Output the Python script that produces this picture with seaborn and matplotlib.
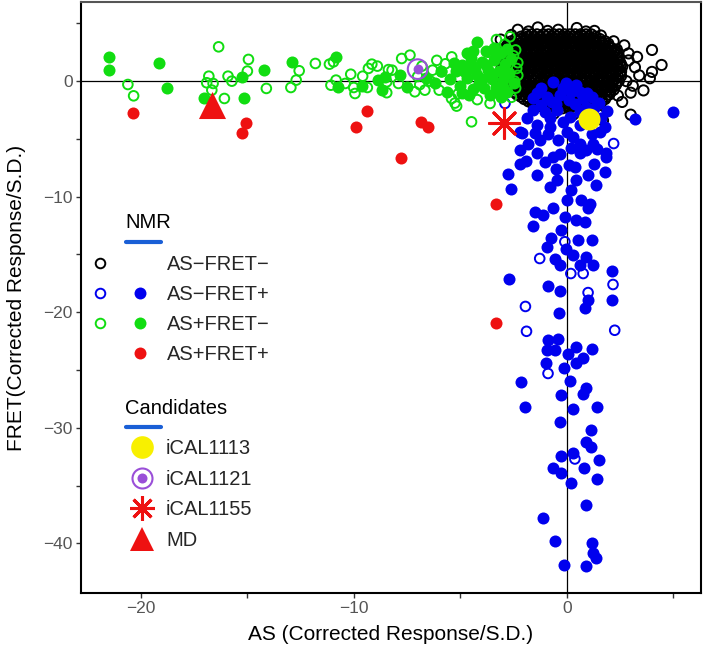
import numpy as np
import pandas as pd
import seaborn as sns
import matplotlib.pyplot as plt
from matplotlib.lines import Line2D
from matplotlib.legend_handler import HandlerTuple

# values: (AS, FRET) in corrected response / S.D.

# AS-FRET- : big black cloud, written as rows of the cloud plus its loose edge rings
black_rows = [
    (4.05, [-1.9, -1.65, -1.4, -1.1, -0.85, -0.6, -0.35, -0.1, 0.15, 0.4, 0.65, 0.9, 1.15]),
    (3.85, [-2.15, -1.85, -1.55, -1.25, -0.95, -0.7, -0.45, -0.2, 0.05, 0.3, 0.55, 0.8, 1.05, 1.35]),
    (3.65, [-2.4, -2.15, -1.9, -1.6, -1.35, -1.1, -0.85, -0.55, -0.3, -0.05, 0.2, 0.45, 0.75, 1.0, 1.3, 1.55]),
    (3.45, [-2.6, -2.35, -2.05, -1.8, -1.55, -1.3, -1.0, -0.75, -0.5, -0.25, 0.0, 0.3, 0.55, 0.8, 1.05, 1.3, 1.55, 1.8]),
    (3.25, [-2.75, -2.5, -2.25, -2.0, -1.7, -1.45, -1.2, -0.95, -0.7, -0.4, -0.15, 0.1, 0.35, 0.6, 0.9, 1.15, 1.4, 1.7, 1.95]),
    (3.05, [-2.8, -2.55, -2.3, -2.0, -1.75, -1.5, -1.2, -0.95, -0.7, -0.45, -0.2, 0.1, 0.35, 0.6, 0.85, 1.15, 1.4, 1.65, 1.95]),
    (2.85, [-2.9, -2.65, -2.35, -2.1, -1.85, -1.6, -1.3, -1.05, -0.8, -0.55, -0.3, 0.0, 0.25, 0.5, 0.75, 1.0, 1.3, 1.55, 1.8, 2.1]),
    (2.65, [-2.95, -2.7, -2.45, -2.2, -1.9, -1.65, -1.4, -1.1, -0.85, -0.6, -0.35, -0.05, 0.2, 0.45, 0.7, 1.0, 1.25, 1.5, 1.8, 2.05, 2.25]),
    (2.45, [-3.0, -2.75, -2.5, -2.25, -1.95, -1.7, -1.45, -1.2, -0.9, -0.65, -0.4, -0.15, 0.1, 0.4, 0.65, 0.9, 1.15, 1.4, 1.7, 1.95, 2.2, 2.35]),
    (2.25, [-2.9, -2.6, -2.35, -2.1, -1.85, -1.55, -1.3, -1.05, -0.75, -0.5, -0.25, 0.05, 0.3, 0.55, 0.85, 1.1, 1.35, 1.65, 1.9, 2.15, 2.4]),
    (2.05, [-3.0, -2.85, -2.6, -2.35, -2.1, -1.8, -1.55, -1.3, -1.05, -0.8, -0.5, -0.25, 0.0, 0.25, 0.5, 0.8, 1.05, 1.3, 1.55, 1.85, 2.1, 2.4]),
    (1.85, [-2.9, -2.65, -2.4, -2.1, -1.85, -1.6, -1.3, -1.05, -0.8, -0.5, -0.25, 0.0, 0.3, 0.55, 0.8, 1.1, 1.35, 1.6, 1.9, 2.15, 2.4]),
    (1.65, [-3.0, -2.75, -2.5, -2.2, -1.95, -1.7, -1.45, -1.15, -0.9, -0.65, -0.4, -0.1, 0.15, 0.4, 0.65, 0.95, 1.2, 1.45, 1.7, 2.0, 2.25, 2.5]),
    (1.45, [-2.95, -2.7, -2.45, -2.15, -1.9, -1.65, -1.35, -1.1, -0.85, -0.55, -0.3, -0.05, 0.25, 0.5, 0.75, 1.05, 1.3, 1.55, 1.85, 2.1, 2.35, 2.55]),
    (1.25, [-3.05, -2.85, -2.6, -2.35, -2.05, -1.8, -1.55, -1.3, -1.0, -0.75, -0.5, -0.25, 0.05, 0.3, 0.55, 0.8, 1.1, 1.35, 1.6, 1.85, 2.15, 2.4, 2.6]),
    (1.05, [-2.9, -2.65, -2.35, -2.1, -1.85, -1.55, -1.3, -1.05, -0.75, -0.5, -0.25, 0.05, 0.3, 0.55, 0.85, 1.1, 1.35, 1.65, 1.9, 2.15, 2.45]),
    (0.85, [-3.0, -2.75, -2.45, -2.2, -1.95, -1.7, -1.4, -1.15, -0.9, -0.6, -0.35, -0.1, 0.2, 0.45, 0.7, 0.95, 1.25, 1.5, 1.75, 2.0, 2.3, 2.55]),
    (0.65, [-2.85, -2.6, -2.3, -2.05, -1.8, -1.5, -1.25, -1.0, -0.7, -0.45, -0.2, 0.1, 0.35, 0.6, 0.9, 1.15, 1.4, 1.7, 1.95, 2.2, 2.5]),
    (0.45, [-2.95, -2.65, -2.4, -2.15, -1.85, -1.6, -1.35, -1.05, -0.8, -0.55, -0.25, 0.0, 0.3, 0.55, 0.8, 1.05, 1.35, 1.6, 1.85, 2.1, 2.4, 2.55]),
    (0.25, [-2.8, -2.5, -2.25, -2.0, -1.7, -1.45, -1.2, -0.9, -0.65, -0.4, -0.1, 0.15, 0.4, 0.7, 0.95, 1.2, 1.5, 1.75, 2.0, 2.3]),
    (0.05, [-2.9, -2.6, -2.35, -2.05, -1.8, -1.55, -1.25, -1.0, -0.75, -0.5, -0.2, 0.05, 0.3, 0.6, 0.85, 1.1, 1.4, 1.65, 1.9, 2.2, 2.45]),
    (-0.15, [-2.7, -2.45, -2.15, -1.9, -1.65, -1.35, -1.1, -0.85, -0.55, -0.3, -0.05, 0.25, 0.5, 0.75, 1.05, 1.3, 1.55, 1.85, 2.1, 2.35]),
    (-0.35, [-2.8, -2.55, -2.25, -2.0, -1.75, -1.45, -1.2, -0.95, -0.65, -0.4, -0.15, 0.15, 0.4, 0.65, 0.95, 1.2, 1.45, 1.75, 2.0, 2.3]),
    (-0.55, [-2.7, -2.4, -2.15, -1.9, -1.6, -1.35, -1.1, -0.8, -0.55, -0.3, 0.0, 0.25, 0.5, 0.8, 1.05, 1.3, 1.6, 1.85, 2.1]),
    (-0.75, [-2.6, -2.35, -2.1, -1.85, -1.55, -1.3, -1.05, -0.8, -0.5, -0.25, 0.0, 0.3, 0.55, 0.8, 1.1, 1.35, 1.6, 1.9, 2.2]),
    (-0.95, [-2.45, -2.2, -1.95, -1.65, -1.4, -1.15, -0.85, -0.6, -0.35, -0.05, 0.2, 0.45, 0.75, 1.0, 1.25, 1.55, 1.8, 2.05]),
    (-1.15, [-2.35, -2.1, -1.8, -1.55, -1.3, -1.0, -0.75, -0.5, -0.2, 0.05, 0.3, 0.6, 0.85, 1.1, 1.4, 1.65, 2.0]),
    (-1.35, [-2.15, -1.9, -1.6, -1.35, -1.1, -0.8, -0.55, -0.3, 0.0, 0.25, 0.5, 0.8, 1.05, 1.3, 1.6, 1.85]),
    (-1.55, [-2.0, -1.75, -1.45, -1.2, -0.95, -0.65, -0.4, -0.15, 0.15, 0.4, 0.65, 0.95, 1.2, 1.5, 1.8]),
    (-1.75, [-1.8, -1.55, -1.3, -1.0, -0.75, -0.5, -0.2, 0.05, 0.3, 0.6, 0.85, 1.1, 1.4, 1.65]),
    (-1.95, [-1.6, -1.3, -1.05, -0.8, -0.5, -0.25, 0.05, 0.3, 0.55, 0.85, 1.1, 1.35, 1.55]),
    (-2.15, [-1.3, -1.05, -0.75, -0.5, -0.25, 0.05, 0.3, 0.55, 0.85, 1.1, 1.35]),
    (-2.35, [-1.0, -0.75, -0.45, -0.2, 0.1, 0.35, 0.6, 0.9, 1.2]),
]
black_edge = [(-2.3, 4.45), (-1.36, 4.65), (-0.9, 4.35), (-0.4, 4.45), (0.47, 4.6), (1.3, 4.35),
              (0.9, 4.3), (-1.8, 4.3), (-2.6, 4.0), (-3.1, 3.6), (1.6, 3.95), (2.2, 3.45), (2.7, 3.1),
              (1.9, 2.75), (2.35, 2.75), (4.0, 2.7), (3.3, 2.1), (2.9, 1.8), (3.2, 1.2), (4.45, 1.4),
              (4.0, 0.8), (3.4, 0.5), (3.9, 0.25), (2.8, 0.0), (3.1, -0.4), (3.6, -0.8), (3.0, -1.0),
              (2.4, -1.25), (2.6, -1.8), (3.0, -2.9), (1.7, -3.4), (1.5, -2.9), (0.3, -2.9),
              (-0.6, -2.8), (2.9, 2.4)]

# AS-FRET+ (blue)
blue_filled = [
    (-1.19, -0.63), (-0.64, -0.06), (-0.02, -0.2), (0.45, -0.35), (-0.95, -1.36), (-0.33, -1.2),
    (0.77, -1.5), (0.92, -2.22), (-1.58, -2.5), (-1.03, -2.66), (-1.89, -3.23), (-2.2, -4.39),
    (-1.42, -3.8), (-0.8, -3.95), (0.0, -4.39), (0.61, -3.8), (1.55, -4.39), (-1.27, -5.1),
    (-0.41, -5.1), (0.61, -5.4), (1.23, -5.4), (0.14, -3.09), (-0.48, -2.5), (0.2, -0.9),
    (-0.7, -1.8), (0.4, -2.0), (1.3, -2.3), (1.6, -3.2), (-0.2, -3.5), (1.2, -4.6), (0.3, -4.8),
    (-0.9, -4.6), (1.8, -4.0), (-1.8, -5.4), (0.9, -6.0), (-0.3, -6.3), (0.2, -5.8), (1.4, -5.9),
    (-1.0, -7.0), (0.1, -7.3), (1.3, -7.2), (-0.5, -7.6), (1.8, -7.9), (-1.9, -6.9), (0.95, -1.0),
    (-1.6, -1.5), (-1.4, -1.0), (-0.2, -0.6), (0.6, -0.9), (1.2, -1.4), (-0.5, -2.0), (0.1, -1.6),
    (1.5, -1.9), (-1.2, -2.1), (0.6, -2.7), (1.9, -2.6), (-0.8, -3.2), (0.9, -3.5), (-1.5, -4.5),
    (5.0, -2.7), (3.19, -3.3), (-2.12, -4.5), (-1.42, -6.26), (-0.64, -6.55),
    (0.61, -6.26), (1.86, -6.26), (-2.2, -5.97), (1.86, -6.6), (-2.2, -7.13), (-2.75, -8.05),
    (-2.63, -9.3), (-1.42, -8.14), (-0.8, -9.15), (-0.48, -8.57), (0.38, -7.42), (0.45, -8.57),
    (1.0, -8.14), (1.39, -9.0), (0.22, -9.44), (0.0, -10.3), (0.69, -10.3), (1.08, -10.6),
    (1.0, -11.0), (-1.5, -11.3), (-1.11, -11.6), (-0.64, -11.0), (-0.09, -11.75), (0.45, -12.0),
    (0.84, -12.2), (-1.58, -12.55), (-0.25, -12.9), (-0.72, -13.6), (-0.95, -14.35), (0.53, -13.77),
    (1.19, -13.77), (-0.02, -14.5), (-0.56, -15.35), (-0.33, -15.9), (0.3, -15.06), (0.92, -15.2),
    (1.23, -15.9), (0.61, -15.9), (2.1, -16.4), (-2.7, -17.1), (-0.87, -17.75), (-0.3, -18.2),
    (1.0, -18.96), (0.84, -19.6), (2.1, -18.9), (-0.36, -20.06), (-0.88, -22.4), (-0.41, -22.3),
    (-0.95, -23.3), (0.45, -23.0), (1.2, -23.2), (-0.56, -23.3), (0.06, -23.6), (0.77, -24.0),
    (0.45, -24.4), (-0.98, -24.4), (-0.14, -24.8), (-2.17, -26.0), (0.17, -25.95), (0.92, -26.6),
    (0.77, -27.1), (-0.25, -27.2), (-1.94, -28.2), (0.27, -28.4), (1.44, -28.2), (-0.33, -29.5),
    (1.13, -30.2), (0.89, -31.2), (1.16, -31.7), (-0.28, -32.4), (0.27, -32.15), (1.51, -32.75),
    (-0.64, -33.5), (-0.25, -33.9), (0.8, -33.45), (1.44, -34.4), (0.22, -34.8), (0.89, -36.7),
    (-1.11, -37.8), (-0.53, -39.8), (1.19, -40.0), (1.23, -40.8), (1.36, -41.3), (-0.14, -41.9),
    (0.89, -42.0),
]
blue_open = [(-2.9, -1.93), (2.2, -5.4), (-0.09, -13.9), (-1.27, -15.35), (0.19, -16.65),
             (0.77, -16.65), (2.17, -17.6), (1.0, -18.3), (-1.94, -19.5), (-1.89, -21.65),
             (2.25, -21.56), (-0.88, -25.3), (0.38, -32.7)]

# AS+FRET- (green)
green_filled = [
    (-21.5, 2.1), (-21.47, 1.0), (-19.16, 1.58), (-18.77, -0.63), (-17.05, -1.44), (-15.25, 0.37),
    (-15.14, -1.5), (-14.2, 1.0), (-12.88, 1.62), (-10.83, 2.05), (-10.72, -0.49), (-9.62, -0.4),
    (-8.84, 0.09), (-8.69, -0.78), (-8.53, 0.37), (-7.83, 0.52), (-7.52, -0.49),
    (-6.6, 0.3), (-6.2, -0.2), (-5.9, 0.9), (-5.5, 0.2), (-5.2, 0.9), (-5.0, -0.4), (-4.9, 1.4),
    (-4.7, 0.3), (-4.5, 2.0), (-4.4, -0.7), (-4.3, 1.0), (-4.23, 3.4), (-4.0, 0.2), (-4.0, 1.7),
    (-3.9, -0.6), (-3.8, 2.6), (-3.7, 1.0), (-3.6, -1.2), (-3.5, 0.2), (-3.4, 1.8), (-3.3, -0.5),
    (-3.2, 0.9), (-3.1, 2.4), (-3.0, 0.1), (-2.9, 1.5), (-2.8, -0.9), (-2.7, 0.7), (-4.67, 2.4),
    (-5.6, -0.9), (-4.6, -1.2), (-3.4, 2.9), (-2.6, 1.9), (-2.5, -0.2), (-3.1, -1.4),
    (-4.8, 0.9), (-4.5, 1.5), (-4.2, 0.5), (-4.1, -0.2), (-3.8, 1.4), (-3.6, 0.6), (-3.3, 2.2),
    (-3.2, -1.0), (-2.9, 0.5), (-2.8, 2.8), (-4.9, -1.0), (-5.3, 1.6), (-4.4, 2.6), (-3.0, -0.5),
]
green_open = [
    (-16.34, 2.97), (-20.6, -0.29), (-20.33, -1.27), (-16.8, 0.43), (-16.9, -0.14), (-16.6, -0.2),
    (-16.66, -0.78), (-16.07, -1.5), (-15.9, 0.43), (-15.72, 0.0), (-14.94, 1.88), (-14.99, 0.87),
    (-14.1, -0.63), (-12.95, -0.55), (-12.7, 0.09), (-12.56, 0.9), (-11.8, 1.53), (-11.14, 1.47),
    (-10.95, 1.67), (-11.07, -0.35), (-10.83, 0.09), (-10.4, -0.2), (-10.14, 0.6), (-10.0, -0.55),
    (-9.94, -1.07), (-9.58, 0.43), (-9.36, -0.55), (-9.31, 1.1), (-9.15, 1.47), (-8.89, 1.3),
    (-8.37, 1.0), (-7.75, 1.96), (-7.36, 2.25), (-8.2, 0.95), (-6.1, 1.8), (-6.3, 0.95),
    (-5.87, 0.8), (-8.45, -0.06), (-8.45, -1.0), (-7.13, -0.92), (-6.66, -0.78), (-5.99, -0.78),
    (-5.41, -1.5), (-5.17, -2.16), (-5.25, -1.9), (-4.47, -3.52), (-3.6, -1.93), (-3.3, 3.6),
    (-2.67, 3.84), (-3.69, 2.5), (-7.0, 0.4), (-6.8, 1.3), (-6.4, 0.0), (-5.7, 1.5), (-5.4, 2.1),
    (-5.1, -1.1), (-4.8, 0.8), (-4.2, -1.6), (-2.4, 2.7), (-2.3, 1.6), (-2.3, 0.5), (-2.4, -0.6),
    (-2.6, -1.4), (-2.9, 3.2), (-7.9, -0.2), (-6.9, -0.3), (-2.5, 2.2), (-2.35, 1.1), (-2.45, 0.0),
]

# AS+FRET+ (red)
red_filled = [(-20.37, -2.74), (-15.05, -3.61), (-15.25, -4.47), (-9.39, -2.6), (-9.89, -3.95),
              (-6.86, -3.52), (-6.5, -4.0), (-7.78, -6.67), (-3.3, -10.6), (-3.33, -20.9)]

# candidate compounds
cand_names = ["iCAL1113", "iCAL1121", "iCAL1155", "MD"]
cand_x = [1.03, -7.0, -2.95, -16.64]
cand_y = [-3.3, 1.04, -3.6, -2.03]

nmr_labels = ["AS\u2212FRET\u2212", "AS\u2212FRET+", "AS+FRET\u2212", "AS+FRET+"]
xtick_vals = [-20, -15, -10, -5, 0, 5]
xtick_text = ["\u221220", "", "\u221210", "", "0", ""]
ytick_vals = [5, 0, -5, -10, -15, -20, -25, -30, -35, -40]
ytick_text = ["", "0", "", "\u221210", "", "\u221220", "", "\u221230", "", "\u221240"]

BLUE = "#0000ee"
GREEN = "#11dd11"
RED = "#ee1111"
YELLOW = "#f8f000"
PURPLE = "#9a4fd8"
LINEBLUE = "#1a5fd6"


def to_df(pts):
    return pd.DataFrame(pts, columns=["AS", "FRET"])


black_pts = [(x, y) for y, xs in black_rows for x in xs] + black_edge

sns.set_theme(style="white")
plt.rcParams["font.family"] = ["Liberation Sans", "DejaVu Sans"]

fig = plt.figure(figsize=(7.04, 6.5), dpi=100)
ax = fig.add_axes([81 / 704, 57 / 650, 620 / 704, 591 / 650])

ax.axhline(0, color="black", lw=0.9, zorder=0.5)
ax.axvline(0, color="black", lw=0.9, zorder=0.5)

ring_kw = dict(facecolor="none", linewidth=1.4, legend=False, ax=ax)
dot_kw = dict(linewidth=0, legend=False, ax=ax)

sns.scatterplot(data=to_df(black_pts), x="AS", y="FRET", s=54, color="black",
                edgecolor="black", **ring_kw)
sns.scatterplot(data=to_df(blue_filled), x="AS", y="FRET", s=75, color=BLUE, **dot_kw)
sns.scatterplot(data=to_df(blue_open), x="AS", y="FRET", s=48, color=BLUE,
                edgecolor=BLUE, **ring_kw)
sns.scatterplot(data=to_df(green_open), x="AS", y="FRET", s=48, color=GREEN,
                edgecolor=GREEN, **ring_kw)
sns.scatterplot(data=to_df(green_filled), x="AS", y="FRET", s=75, color=GREEN, **dot_kw)
sns.scatterplot(data=to_df(red_filled), x="AS", y="FRET", s=75, color=RED, **dot_kw)

# candidates
cand = pd.DataFrame({"AS": cand_x, "FRET": cand_y, "name": cand_names})
c1 = cand[cand.name == "iCAL1113"]
c2 = cand[cand.name == "iCAL1121"]
c3 = cand[cand.name == "iCAL1155"]
c4 = cand[cand.name == "MD"]
sns.scatterplot(data=c1, x="AS", y="FRET", s=250, color=YELLOW, zorder=4, **dot_kw)
sns.scatterplot(data=c2, x="AS", y="FRET", s=200, color=PURPLE, edgecolor=PURPLE,
                zorder=4, facecolor="none", linewidth=1.5, legend=False, ax=ax)
sns.scatterplot(data=c2, x="AS", y="FRET", s=50, color=PURPLE, zorder=4, **dot_kw)
sns.scatterplot(data=c3, x="AS", y="FRET", s=460, marker=(8, 2, 0), color=RED,
                edgecolor=RED, linewidth=2.2, zorder=4, legend=False, ax=ax)
sns.scatterplot(data=c4, x="AS", y="FRET", s=380, marker="^", color=RED, zorder=4, **dot_kw)

ax.set_xlim(-22.8, 6.3)
ax.set_ylim(-44.3, 6.85)
ax.set_xticks(xtick_vals)
ax.set_xticklabels(xtick_text)
ax.set_yticks(ytick_vals)
ax.set_yticklabels(ytick_text)
ax.tick_params(axis="both", direction="out", length=3.6, width=1.0, color="#333333",
               labelsize=12.5, labelcolor="#555555", pad=2.5)
ax.tick_params(bottom=True, left=True)
ax.set_xlabel("AS (Corrected Response/S.D.)", fontsize=15, color="black", labelpad=6)
ax.set_ylabel("FRET(Corrected Response/S.D.)", fontsize=15, color="black", labelpad=12)
for side, sp in ax.spines.items():
    sp.set_visible(True)
    sp.set_linewidth(1.5)
    sp.set_color("black" if side != "top" else "#555555")


# legends
def ring(c, ms=6.9):
    return Line2D([], [], ls="none", marker="o", ms=ms, mfc="none", mec=c, mew=1.4)


def dot(c, ms=8.6):
    return Line2D([], [], ls="none", marker="o", ms=ms, mfc=c, mec=c, mew=0)


blank = Line2D([], [], ls="none", marker="")
nmr_handles = [(ring("black"), blank), (ring(BLUE), dot(BLUE)),
               (ring(GREEN), dot(GREEN)), (blank, dot(RED))]
leg1 = ax.legend(nmr_handles, nmr_labels, handler_map={tuple: HandlerTuple(ndivide=None, pad=1.2)},
                 loc="upper left", bbox_to_anchor=((92 - 81) / 620, (593 - 255) / 591),
                 frameon=False, borderpad=0, borderaxespad=0, handlelength=2.8,
                 handletextpad=0.9, labelspacing=0.55, fontsize=14.5, numpoints=1)
ax.add_artist(leg1)

cand_handles = [
    dot(YELLOW, 16.3),
    (Line2D([], [], ls="none", marker="o", ms=14.4, mfc="none", mec=PURPLE, mew=1.5), dot(PURPLE, 7.2)),
    Line2D([], [], ls="none", marker=(8, 2, 0), ms=18, mec=RED, mew=2.2),
    Line2D([], [], ls="none", marker="^", ms=17, mfc=RED, mec=RED, mew=0),
]
leg2 = ax.legend(cand_handles, cand_names, handler_map={tuple: HandlerTuple(ndivide=1)},
                 loc="upper left", bbox_to_anchor=((127 - 81) / 620, (593 - 439) / 591),
                 frameon=False, borderpad=0, borderaxespad=0, handlelength=1.5,
                 handletextpad=0.44, labelspacing=0.575, fontsize=14.5, numpoints=1)

for title, ty, uy in [("NMR", 223, 242), ("Candidates", 408, 427)]:
    ax.text((125 - 81) / 620, (593 - ty) / 591, title, transform=ax.transAxes,
            ha="left", va="center", fontsize=14.5, color="black")
    ax.add_line(Line2D([(126 - 81) / 620, (161 - 81) / 620], [(593 - uy) / 591] * 2,
                       transform=ax.transAxes, color=LINEBLUE, lw=3, solid_capstyle="round",
                       clip_on=False))

fig.savefig("out.png", dpi=100)
